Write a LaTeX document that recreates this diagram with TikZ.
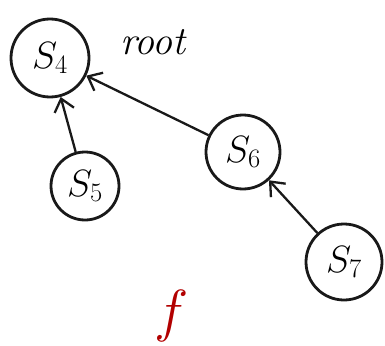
\documentclass[tikz,border=0pt]{standalone}
\usepackage{fix-cm}
\usetikzlibrary{arrows.meta}
\begin{document}
\begin{tikzpicture}[x=1pt,y=-1pt,
  state/.style={circle,draw=black!90,line width=2.8pt,inner sep=0pt,minimum size=#1,
    font=\fontsize{38}{40}\selectfont},
  link/.style={draw=black!90,line width=2.3pt,
    -{Straight Barb[length=12pt,width=20pt,line width=2.3pt]}},
]
\useasboundingbox (0,0) rectangle (385,345);
\node[state=78pt] (s4) at (50,58) {$S_4$};
\node[state=68pt] (s5) at (85,186) {$S_5$};
\node[state=74pt] (s6) at (243,152) {$S_6$};
\node[state=76pt] (s7) at (344,262) {$S_7$};
\node[font=\fontsize{40}{42}\selectfont\itshape] (root) at (153,42) {root};
\node[font=\fontsize{58}{60}\selectfont,text=red!70!black] (f) at (172,316) {$f$};
\draw[link] (s5) -- (s4);
\draw[link] (s6) -- (s4);
\draw[link] (s7) -- (s6);
\end{tikzpicture}
\end{document}
